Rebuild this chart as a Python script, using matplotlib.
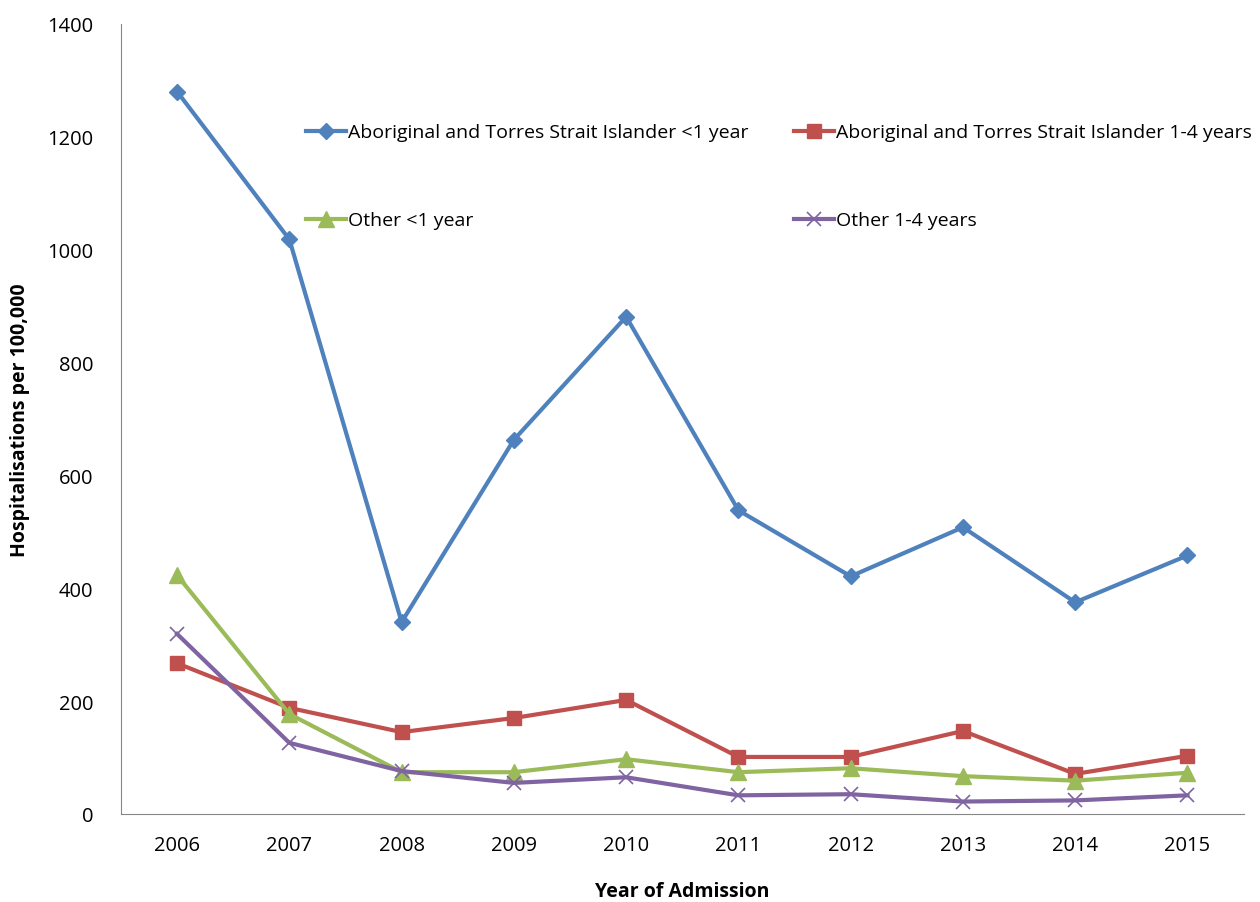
import numpy as np
import matplotlib.pyplot as plt

plt.rcParams['font.family'] = ['Open Sans', 'DejaVu Sans']

years = ['2006', '2007', '2008', '2009', '2010', '2011', '2012', '2013', '2014', '2015']
atsi_lt1 = [1280, 1018, 340, 663, 881, 538, 421, 508, 375, 458]
atsi_1to4 = [267, 188, 145, 170, 202, 101, 101, 147, 71, 103]
other_lt1 = [423, 177, 74, 74, 97, 74, 81, 67, 59, 73]
other_1to4 = [319, 126, 76, 55, 65, 33, 35, 22, 24, 33]

labels = ['Aboriginal and Torres Strait Islander <1 year',
          'Aboriginal and Torres Strait Islander 1-4 years',
          'Other <1 year',
          'Other 1-4 years']

fig = plt.figure(figsize=(12.6, 9.03), dpi=100)
ax = fig.add_axes([0.096, 0.0975, 0.891, 0.875])

x = np.arange(len(years))
l1, = ax.plot(x, atsi_lt1, color='#4F81BD', lw=3, marker='D', ms=8, label=labels[0])
l2, = ax.plot(x, atsi_1to4, color='#C0504D', lw=3, marker='s', ms=10, label=labels[1])
l3, = ax.plot(x, other_lt1, color='#9BBB59', lw=3, marker='^', ms=11, label=labels[2])
l4, = ax.plot(x, other_1to4, color='#8064A2', lw=3, marker='x', ms=10, mew=1.2, label=labels[3])

ax.set_xlim(-0.5, 9.5)
ax.set_ylim(0, 1400)
ax.set_xticks(x)
ax.set_xticklabels(years)
ax.set_yticks(np.arange(0, 1401, 200))
ax.tick_params(length=0, labelsize=14.5, pad=15)
ax.tick_params(axis='y', pad=20)

for s in ['top', 'right']:
    ax.spines[s].set_visible(False)
for s in ['left', 'bottom']:
    ax.spines[s].set_color('#868686')

ax.set_xlabel('Year of Admission', fontsize=14, fontweight='bold', labelpad=19)
ax.set_ylabel('Hospitalisations per 100,000', fontsize=14, fontweight='bold', labelpad=12)

# row-major order like the original: blue, red / green, purple
fig.legend([l1, l3, l2, l4], [labels[0], labels[2], labels[1], labels[3]],
           loc='upper left', bbox_to_anchor=(288 / 1260, 1 - 107 / 903), ncol=2,
           frameon=False, fontsize=14, handlelength=2.1, handletextpad=0.1,
           columnspacing=2.3, labelspacing=3.6)

plt.savefig('out.png')
